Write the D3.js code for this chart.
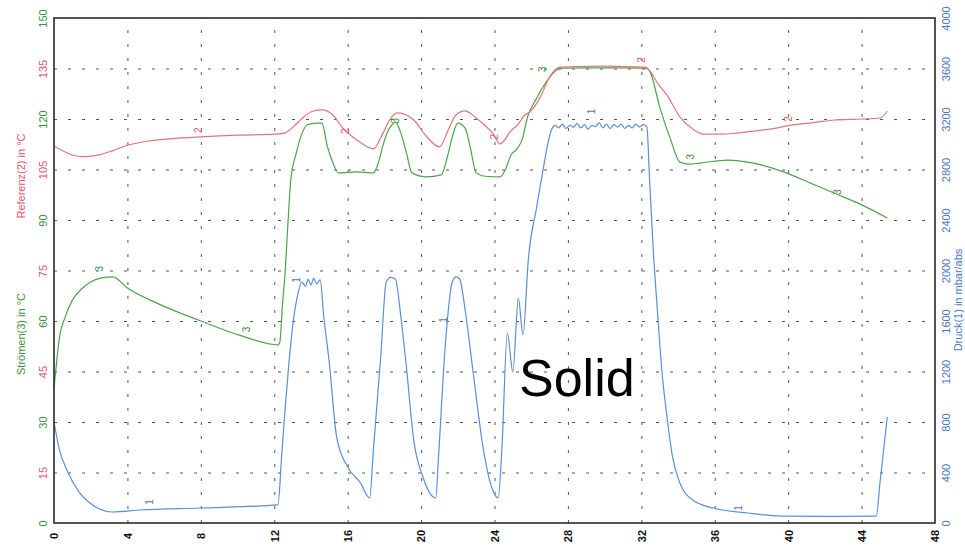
<!DOCTYPE html>
<html>
<head>
<meta charset="utf-8">
<script src="https://cdn.jsdelivr.net/npm/d3@7"></script>
<style>
  body { margin: 0; background: #fff; }
  svg { display: block; font-family: "Liberation Sans", Arial, sans-serif; }
</style>
</head>
<body>
<svg id="chart" width="965" height="549"></svg>
<script>
// time axis in minutes (0..48)
var xTicks = [0, 4, 8, 12, 16, 20, 24, 28, 32, 36, 40, 44, 48];
var tempTicks = [0, 15, 30, 45, 60, 75, 90, 105, 120, 135, 150];
var pressTicks = [0, 400, 800, 1200, 1600, 2000, 2400, 2800, 3200, 3600, 4000];

// curve 2 - Referenz temperature
var refTime = [0, 0.5, 1.0, 1.6, 2.5, 3.2, 4.0, 5.2, 6.5, 8.0, 10.0, 12.1, 12.6, 13.2, 13.6, 14.1, 14.6, 15.2, 15.7, 16.2,
  16.7, 17.4, 17.9, 18.3, 18.7, 19.2, 19.6, 20.3, 21.0, 21.5, 21.9, 22.4, 23.0, 23.5, 23.9, 24.3, 24.9, 25.3, 25.6, 25.9,
  26.5, 27.0, 27.6, 28.5, 29.9, 31.0, 32.2, 32.5, 32.9, 33.4, 34.1, 34.8, 35.4, 36.3, 37.0, 38.1, 39.0, 40.2, 41.5, 42.5,
  44.0, 45.0, 45.4];
var refTemp = [112.0, 110.5, 109.3, 108.8, 109.4, 110.6, 112.2, 113.5, 114.2, 114.7, 115.2, 115.5, 115.9, 118.5, 120.6, 122.3, 122.7, 121.2, 117.5, 115.0,
  113.0, 111.1, 115.5, 119.8, 121.8, 121.2, 119.7, 114.8, 111.7, 117.0, 121.2, 122.4, 120.3, 118.0, 115.8, 112.6, 116.5, 118.5, 120.9, 122.0,
  126.5, 132.5, 135.4, 135.6, 135.7, 135.6, 135.4, 134.0, 130.5, 127.1, 120.6, 117.0, 115.5, 115.5, 115.7, 116.4, 117.0, 118.2, 119.0, 119.7,
  120.0, 120.3, 122.3];

// curve 3 - Stromen temperature
var strTime = [0, 0.1, 0.3, 0.6, 1.0, 1.5, 2.0, 2.6, 3.2, 4.0, 5.6, 8.0, 10.1, 12.2, 12.3, 12.45, 12.6, 12.75, 12.9,
  13.2, 13.5, 13.8, 14.3, 14.6, 14.9, 15.2, 15.5, 16.5, 17.4, 17.7, 17.9, 18.2, 18.4, 18.6, 18.9, 19.2, 19.5, 20.3, 21.1,
  21.4, 21.7, 22.0, 22.4, 22.7, 23.0, 23.5, 24.3, 24.6, 24.9, 25.2, 25.5, 25.8, 26.3, 26.9, 27.4, 27.7, 29.0, 30.5, 32.3,
  32.5, 33.0, 33.6, 34.1, 34.6, 35.2, 36.7, 38.1, 39.9, 41.2, 42.5, 44.0, 45.4];
var strTemp = [40.0, 45.5, 55.2, 61.0, 66.2, 69.5, 71.6, 72.8, 73.1, 69.8, 65.3, 60.0, 55.8, 52.9, 53.6, 65.0, 75.0, 89.4, 101.9,
  109.9, 115.5, 118.3, 118.8, 118.8, 111.7, 106.9, 104.0, 104.3, 104.0, 107.5, 111.7, 116.5, 118.2, 119.1, 115.8, 110.0, 104.0, 102.8, 103.4,
  108.0, 114.7, 118.8, 117.3, 111.0, 104.0, 103.0, 102.8, 105.0, 109.3, 111.0, 113.8, 120.6, 126.2, 131.6, 134.6, 135.1, 135.2, 135.2, 135.1,
  133.7, 123.6, 113.8, 107.2, 106.6, 106.9, 107.8, 106.9, 104.0, 101.0, 98.0, 94.5, 90.6];

// curve 1 - Druck (pressure, right axis)
var pressTime = [0, 0.3, 0.7, 1.4, 2.1, 3.2, 4.7, 8.0, 12.2, 12.4, 12.6, 12.8, 13.0, 13.3, 13.5, 13.7, 13.85, 14.0, 14.15, 14.3,
  14.5, 14.7, 15.0, 15.4, 16.0, 16.7, 17.2, 17.4, 17.8, 18.1, 18.35, 18.6, 18.9, 19.2, 19.6, 20.1, 20.8, 20.95, 21.3, 21.7,
  21.9, 22.1, 22.4, 22.8, 23.4, 23.9, 24.2, 24.4, 24.7, 25.0, 25.3, 25.55, 25.85, 26.3, 26.6, 27.1, 27.3, 27.5, 27.7, 27.9,
  28.1, 28.3, 28.5, 28.7, 28.9, 29.1, 29.3, 29.5, 29.7, 29.9, 30.1, 30.3, 30.5, 30.7, 30.9, 31.1, 31.3, 31.5, 31.7, 31.9,
  32.1, 32.3, 32.45, 32.65, 32.9, 33.1, 33.4, 33.7, 34.1, 34.8, 35.9, 37.8, 39.6, 42.0, 44.8, 45.0, 45.4];
var pressVal = [800, 578, 420, 238, 143, 87, 103, 119, 143, 523, 919, 1267, 1552, 1822, 1909, 1875, 1930, 1885, 1940, 1895,
  1925, 1632, 1267, 681, 444, 317, 198, 578, 1315, 1909, 1945, 1933, 1632, 1236, 657, 364, 198, 523, 1370, 1909,
  1950, 1933, 1687, 1236, 578, 261, 198, 578, 1505, 1196, 1782, 1489, 2100, 2503, 2760, 3113, 3150, 3130, 3160, 3125,
  3150, 3135, 3165, 3130, 3155, 3120, 3150, 3140, 3170, 3130, 3160, 3125, 3155, 3135, 3160, 3125, 3150, 3130, 3160, 3135,
  3155, 3140, 2717, 2162, 1632, 1236, 840, 523, 317, 182, 119, 79, 55, 52, 55, 317, 840];

// curve number markers along each trace
var strLabelTime = [2.5, 10.5, 18.6, 26.6, 34.7, 42.7];
var strLabelVal = [75.5, 57.5, 119.5, 134.8, 108.8, 98.3];
var refLabelTime = [7.85, 15.9, 24.0, 32.0, 40.0];
var refLabelVal = [116.7, 116.4, 114.7, 137.5, 120.0];
var pressLabelTime = [5.2, 13.2, 21.2, 29.3, 37.3];
var pressLabelVal = [166, 1925, 1608, 3260, 119];

var red = "#e2757a", green = "#4ba44b", blue = "#5b8ed6";
var redText = "#e0566a", greenText = "#3a8f3a", blueText = "#4a78c8";

var margin = {top: 18, right: 30, bottom: 26, left: 54},
    width = 965 - margin.left - margin.right,
    height = 549 - margin.top - margin.bottom;

var svg = d3.select("#chart");
var g = svg.append("g")
    .attr("transform", "translate(" + margin.left + "," + margin.top + ")");

var x = d3.scaleLinear().domain([0, 48]).range([0, width]);
var yL = d3.scaleLinear().domain([0, 150]).range([height, 0]);
var yR = d3.scaleLinear().domain([0, 4000]).range([height, 0]);

// dotted grid
g.append("g")
    .attr("class", "vgrid")
    .attr("transform", "translate(0," + height + ")")
    .call(d3.axisBottom(x).tickValues(xTicks.slice(1, -1)).tickSize(-height).tickFormat(""))
    .call(function (a) { a.select(".domain").remove(); });
g.append("g")
    .attr("class", "hgrid")
    .call(d3.axisLeft(yL).tickValues(tempTicks.slice(1, -1)).tickSize(-width).tickFormat(""))
    .call(function (a) { a.select(".domain").remove(); });
g.selectAll(".vgrid line, .hgrid line")
    .attr("stroke", "#555")
    .attr("stroke-width", 1)
    .attr("stroke-dasharray", "3,11");

// left axis labels (alternating green / red)
var left = g.append("g")
    .call(d3.axisLeft(yL).tickValues(tempTicks).tickSize(0).tickFormat(d3.format("d")));
left.select(".domain").remove();
left.selectAll("text")
    .attr("x", 0).attr("dy", "0.35em")
    .attr("text-anchor", "middle")
    .attr("transform", "translate(-11,0) rotate(-90)")
    .attr("font-size", 11)
    .attr("fill", function (d, i) { return i % 2 == 0 ? greenText : redText; });

// right axis labels
var right = g.append("g")
    .attr("transform", "translate(" + width + ",0)")
    .call(d3.axisRight(yR).tickValues(pressTicks).tickSize(0).tickFormat(d3.format("d")));
right.select(".domain").remove();
right.selectAll("text")
    .attr("x", 0).attr("dy", "0.35em")
    .attr("text-anchor", "middle")
    .attr("transform", "translate(11,0) rotate(-90)")
    .attr("font-size", 11)
    .attr("fill", blueText);

// bottom axis labels
var bottom = g.append("g")
    .attr("transform", "translate(0," + height + ")")
    .call(d3.axisBottom(x).tickValues(xTicks).tickSize(0));
bottom.select(".domain").remove();
bottom.selectAll("text")
    .attr("y", 0).attr("dy", "0.35em")
    .attr("text-anchor", "middle")
    .attr("transform", "translate(0,13) rotate(-90)")
    .attr("font-size", 11)
    .attr("font-weight", "bold")
    .attr("fill", "#111");

// axis titles
svg.append("text")
    .attr("transform", "translate(21,176) rotate(-90)")
    .attr("text-anchor", "middle").attr("dy", "0.35em")
    .attr("font-size", 11).attr("fill", redText)
    .text("Referenz(2) in °C");
svg.append("text")
    .attr("transform", "translate(21,334) rotate(-90)")
    .attr("text-anchor", "middle").attr("dy", "0.35em")
    .attr("font-size", 11).attr("fill", greenText)
    .text("Strömen(3) in °C");
svg.append("text")
    .attr("transform", "translate(958,300) rotate(-90)")
    .attr("text-anchor", "middle").attr("dy", "0.35em")
    .attr("font-size", 11).attr("fill", blueText)
    .text("Druck(1) in mbar/abs");

// traces
function drawTrace(times, vals, yScale, color) {
    var line = d3.line()
        .x(function (d) { return x(d[0]); })
        .y(function (d) { return yScale(d[1]); })
        .curve(d3.curveMonotoneX);
    g.append("path")
        .datum(d3.zip(times, vals))
        .attr("fill", "none")
        .attr("stroke", color)
        .attr("stroke-width", 1.2)
        .attr("stroke-linejoin", "round")
        .attr("d", line);
}
drawTrace(pressTime, pressVal, yR, blue);
drawTrace(strTime, strTemp, yL, green);
drawTrace(refTime, refTemp, yL, red);

function drawMarks(times, vals, yScale, color, num) {
    g.selectAll(null)
        .data(d3.zip(times, vals))
        .enter()
        .append("text")
        .attr("transform", function (d) {
            return "translate(" + x(d[0]) + "," + yScale(d[1]) + ") rotate(-90)";
        })
        .attr("text-anchor", "middle")
        .attr("dy", "0.35em")
        .attr("font-size", 10)
        .attr("fill", color)
        .text(num);
}
drawMarks(strLabelTime, strLabelVal, yL, greenText, "3");
drawMarks(refLabelTime, refLabelVal, yL, redText, "2");
drawMarks(pressLabelTime, pressLabelVal, yR, blueText, "1");

// frame
g.append("rect")
    .attr("width", width).attr("height", height)
    .attr("fill", "none")
    .attr("stroke", "#2a2a2a")
    .attr("stroke-width", 1.6);

// annotation
svg.append("text")
    .attr("x", 519).attr("y", 396)
    .attr("font-size", 52)
    .attr("fill", "#000")
    .text("Solid");
</script>
</body>
</html>
